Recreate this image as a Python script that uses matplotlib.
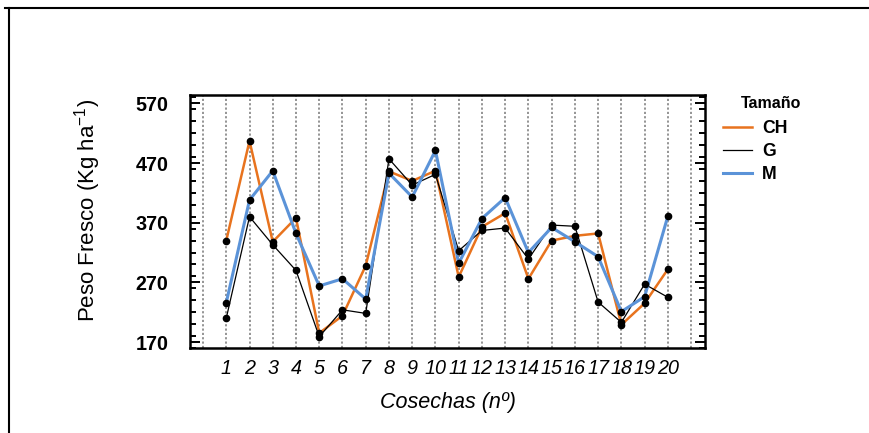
import numpy as np
import matplotlib
matplotlib.use("Agg")
import matplotlib.pyplot as plt
from matplotlib.lines import Line2D
from matplotlib.ticker import MultipleLocator

plt.rcParams["font.family"] = ["Liberation Sans", "DejaVu Sans"]
plt.rcParams["mathtext.default"] = "regular"

cosechas = list(range(1, 21))
ch = [340, 507, 338, 378, 185, 214, 298, 456, 440, 457,
      279, 363, 386, 276, 340, 348, 352, 199, 235, 292]
g = [210, 380, 333, 290, 179, 224, 218, 477, 433, 451,
     323, 357, 361, 309, 366, 364, 237, 203, 267, 245]
m = [236, 408, 457, 352, 264, 276, 242, 453, 413, 491,
     302, 377, 412, 320, 362, 338, 313, 221, 246, 381]

series = [("CH", ch, "#E8731E", 1.8), ("G", g, "black", 0.9), ("M", m, "#5B93D8", 2.2)]

fig = plt.figure(figsize=(8.7, 4.33), dpi=100)
ax = fig.add_axes([0.2184, 0.1963, 0.5920, 0.5843])

for name, vals, col, lw in series:
    ax.plot(cosechas, vals, color=col, lw=lw, zorder=3, label=name)
for name, vals, col, lw in series:
    ax.plot(cosechas, vals, "o", color="black", ms=4.5, zorder=4)

ax.set_xlim(-0.56, 21.6)
ax.set_ylim(160, 584)

# dotted verticals at every position 0..21
for xv in range(0, 22):
    ax.axvline(xv, color="#8c8c8c", ls=(0, (1.2, 1.2)), lw=1.3, zorder=1)

ax.set_xticks(cosechas)
ax.set_xticklabels([str(c) for c in cosechas], fontstyle="italic", fontsize=14.2)
ax.tick_params(axis="x", length=0, pad=8)

ax.set_yticks([170, 270, 370, 470, 570])
ax.yaxis.set_minor_locator(MultipleLocator(20))
ax.tick_params(axis="y", which="major", direction="in", length=7.5, width=1.4,
               left=True, right=True, labelsize=14.2, pad=15.5)
ax.tick_params(axis="y", which="minor", direction="in", length=4.5, width=1.4,
               left=True, right=True)
for lab in ax.get_yticklabels():
    lab.set_fontweight("bold")

for sp in ax.spines.values():
    sp.set_linewidth(1.8)

ax.set_xlabel("Cosechas (nº)", fontstyle="italic", fontsize=15.5, labelpad=10)
ax.set_ylabel("Peso Fresco (Kg ha$^{-1}$)", fontsize=16)
ax.yaxis.set_label_coords(-0.169, 0.545)

handles = [Line2D([], [], color=col, lw=lw) for _, _, col, lw in series]
leg = fig.legend(handles, [s[0] for s in series], loc="upper left",
                 bbox_to_anchor=(0.813, 0.76), frameon=False,
                 handlelength=1.65, handletextpad=0.55,
                 labelspacing=0.36, prop={"weight": "bold", "size": 12.7})
fig.text(0.886, 0.762, "Tamaño", ha="center", va="center",
         fontsize=11.5, fontweight="bold")

# outer frame lines (top and left)
fig.add_artist(Line2D([0.006, 1.0], [0.982, 0.982], color="black", lw=1.5,
                      transform=fig.transFigure))
fig.add_artist(Line2D([0.0105, 0.0105], [0.0, 0.982], color="black", lw=1.5,
                      transform=fig.transFigure))

fig.savefig("out.png", dpi=100)
